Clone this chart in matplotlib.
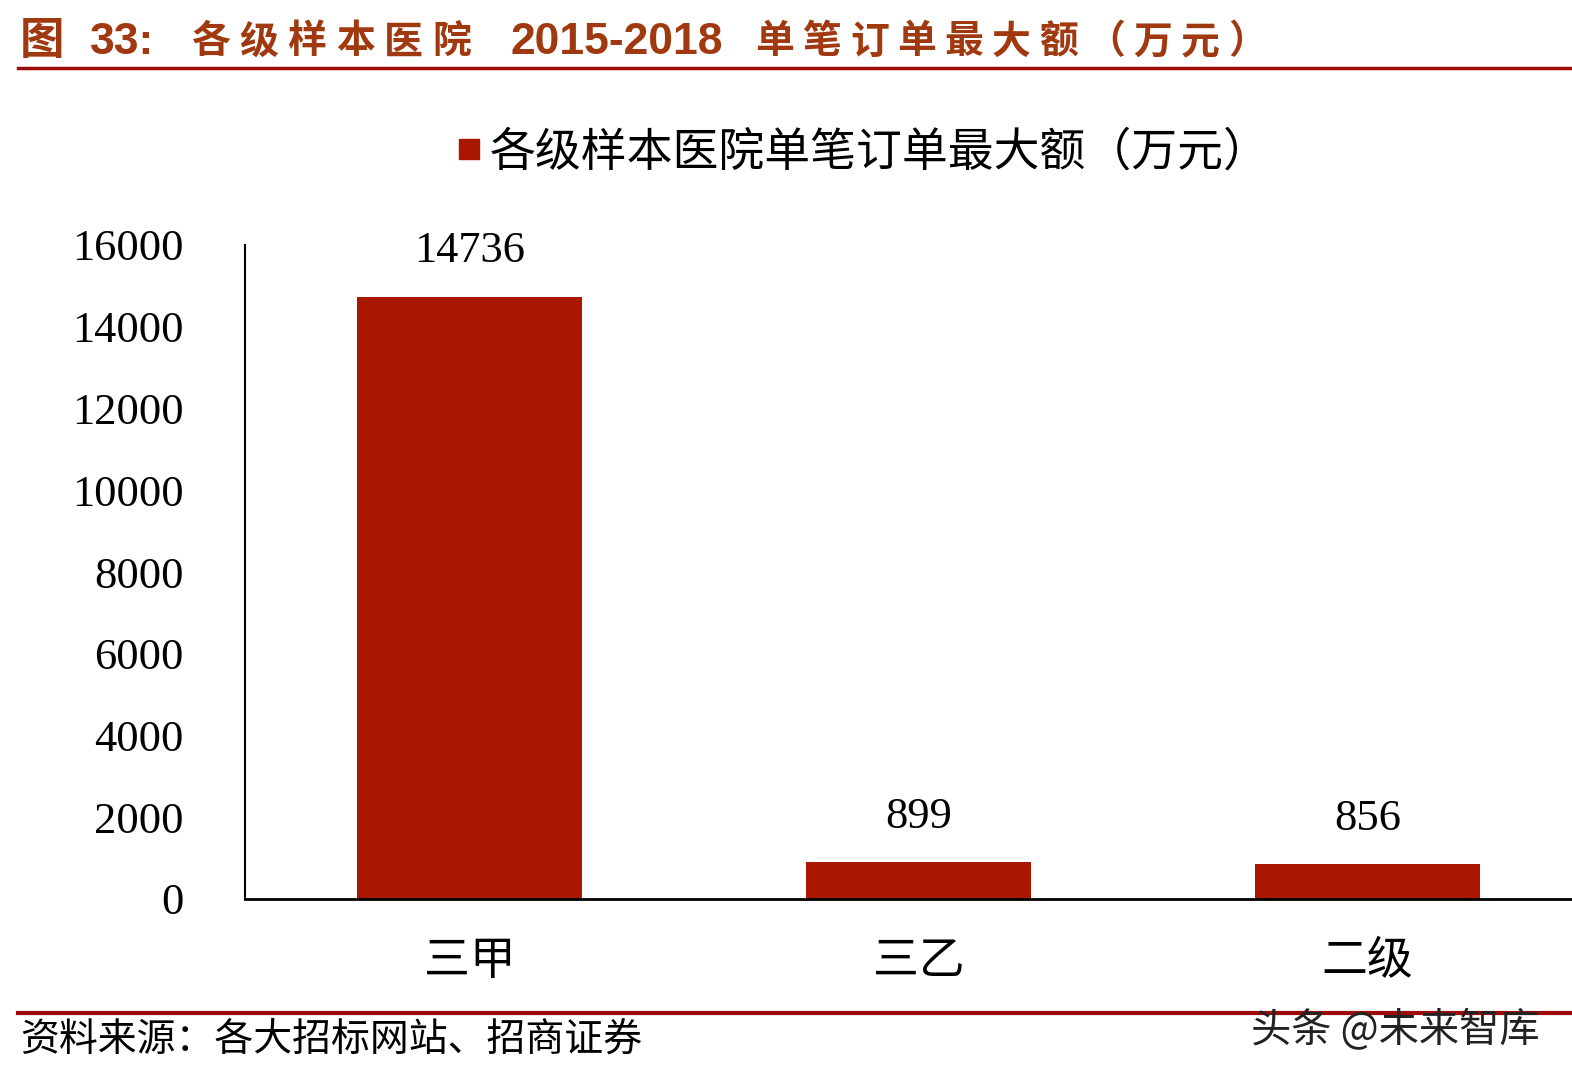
import matplotlib
matplotlib.use("Agg")
import matplotlib.pyplot as plt
from matplotlib.lines import Line2D

categories = ["三甲", "三乙", "二级"]
values = [14736, 899, 856]
yticks = [0, 2000, 4000, 6000, 8000, 10000, 12000, 14000, 16000]
series_name = "各级样本医院单笔订单最大额（万元）"
title_parts = [("图", 20, None), ("33:", 90, None), ("各级样本医院", 190, 48.3),
               ("2015-2018", 510, None), ("单笔订单最大额（万元）", 755, 47.3)]
source_text = "资料来源：各大招标网站、招商证券"
watermark = "头条 @未来智库"

W, H = 1572, 1086
fig = plt.figure(figsize=(W / 100, H / 100), dpi=100)

CJK = ["Noto Sans CJK SC", "DejaVu Sans"]
SERIF = ["Liberation Serif", "Noto Sans CJK SC"]
bar_color = "#AA1700"
title_color = "#A0390F"
rule_color = "#9E0B0B"

left, right = 245 / W, 1592 / W
bottom, top = 1 - 899 / H, 1 - 245 / H
ax = fig.add_axes([left, bottom, right - left, top - bottom])
x = list(range(len(categories)))
bars = ax.bar(x, values, width=0.5, color=bar_color, zorder=2)
ax.set_xlim(-0.5, 2.5)
ax.set_ylim(0, 16000)
ax.set_yticks(yticks)
ax.set_yticklabels([str(v) for v in yticks], fontfamily=SERIF, fontsize=32)
ax.set_xticks(x)
ax.set_xticklabels(categories, fontfamily=CJK, fontsize=33, fontweight="light")
ax.tick_params(axis="y", length=0, pad=44)
ax.tick_params(axis="x", length=0, pad=27)
for s in ["top", "right"]:
    ax.spines[s].set_visible(False)
ax.spines["left"].set_linewidth(1.5)
ax.spines["bottom"].set_linewidth(2)
for xi, v in zip(x, values):
    ax.text(xi, v + 620, str(v), ha="center", va="bottom", fontfamily=SERIF, fontsize=32)

# legend
handle = Line2D([], [], marker="s", linestyle="none", color=bar_color, markersize=15)
fig.legend([handle], [series_name], loc="center", bbox_to_anchor=(862 / W, 1 - 152 / H),
           frameon=False, prop={"family": CJK, "size": 33, "weight": "light"},
           handletextpad=0.15, handlelength=0.6)

# title
ty = 1 - 42 / H
for text, px, pitch in title_parts:
    if pitch is None:
        fig.text(px / W, ty, text, ha="left", va="center", fontsize=32, fontweight="bold",
                 color=title_color, family=["Liberation Sans", "Noto Sans CJK SC"])
    else:
        for i, ch in enumerate(text):
            fig.text((px + i * pitch + pitch / 2 - 4) / W, ty, ch, ha="center", va="center",
                     fontsize=28, fontweight="bold", color=title_color, family=CJK)
fig.add_artist(Line2D([18 / W, 1.0], [1 - 68 / H] * 2, color=rule_color, lw=2.5))
fig.add_artist(Line2D([18 / W, 1.0], [1 - 1013 / H] * 2, color=rule_color, lw=3))
fig.text(20 / W, 1 - 1040 / H, source_text, ha="left", va="center", fontsize=28,
         family=CJK, fontweight="light")
fig.text(1540 / W, 1 - 1030 / H, watermark, ha="right", va="center", fontsize=29,
         family=CJK, color="#222222")

fig.savefig("out.png", dpi=100)
